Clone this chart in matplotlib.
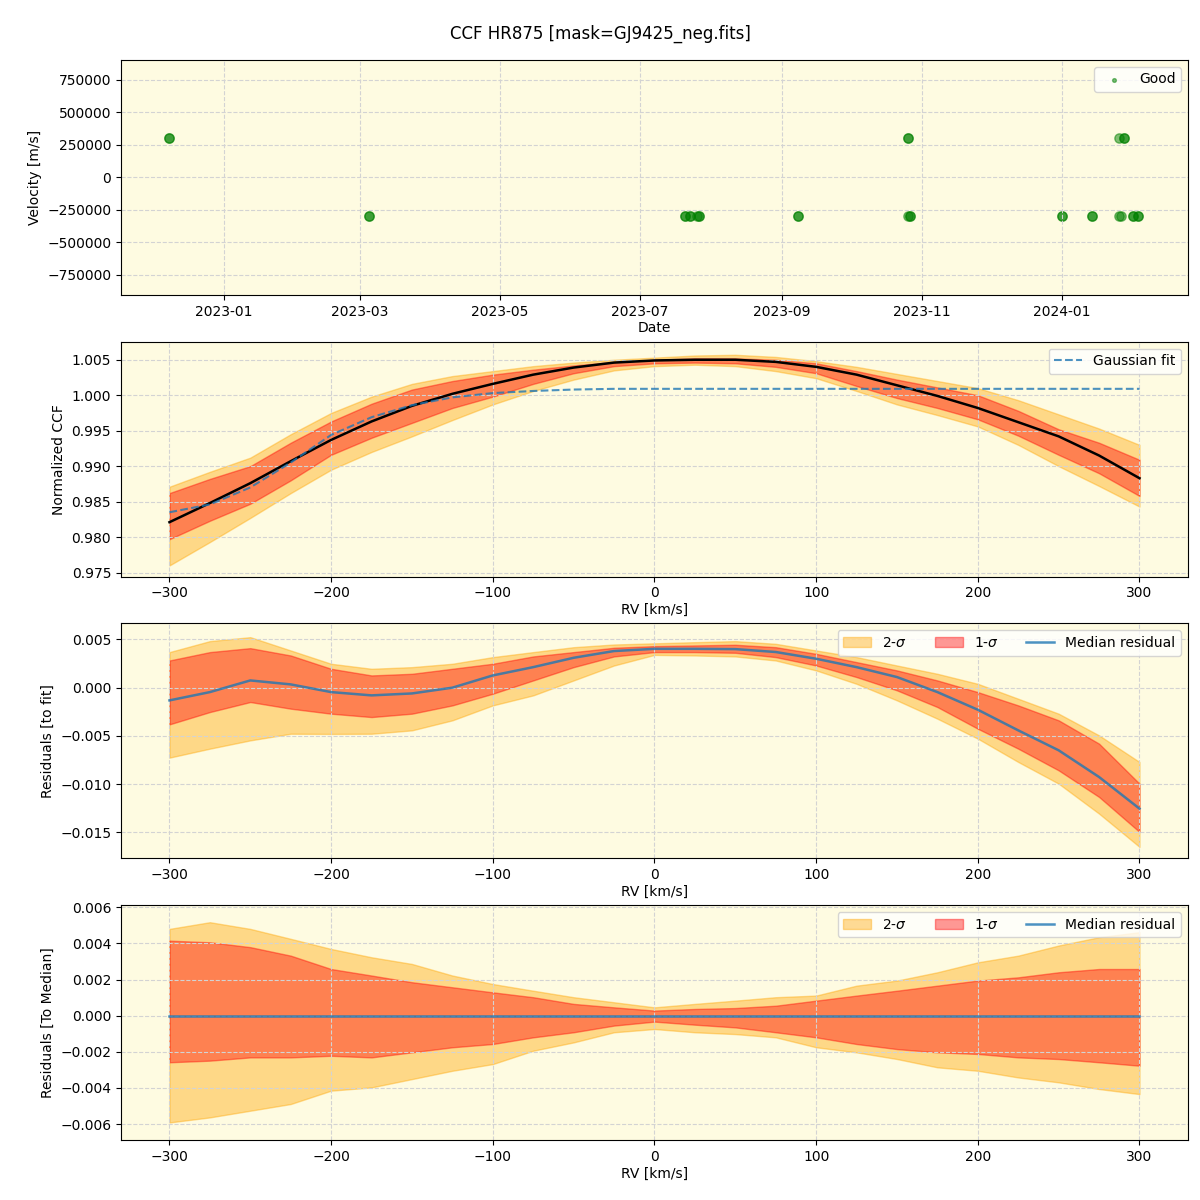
#CCF summary plot: RV time series + stacked CCF, residuals to fit and to median
import matplotlib
matplotlib.use('Agg')
import matplotlib.pyplot as plt
import matplotlib.dates as mdates
import numpy as np

#Observation dates and measured velocities (top panel)
ObsDates = ['2022-12-08', '2022-12-08', '2023-03-05', '2023-03-05', '2023-07-21', '2023-07-21',
            '2023-07-23', '2023-07-23', '2023-07-26', '2023-07-27', '2023-07-27', '2023-09-08',
            '2023-09-08', '2023-10-26', '2023-10-26', '2023-10-26', '2023-10-27', '2023-10-27',
            '2024-01-01', '2024-01-01', '2024-01-14', '2024-01-14', '2024-01-26', '2024-01-26',
            '2024-01-28', '2024-01-28', '2024-01-27', '2024-02-01', '2024-02-01', '2024-02-03', '2024-02-03']
ObsVelocity = [299792, 299792, -299792, -299792, -299792, -299792,
               -299792, -299792, -299792, -299792, -299792, -299792,
               -299792, 299792, -299792, 299792, -299792, -299792,
               -299792, -299792, -299792, -299792, 299792, -299792,
               299792, 299792, -299792, -299792, -299792, -299792, -299792]

#RV grid [km/s]
RV = [-300, -275, -250, -225, -200, -175, -150, -125, -100, -75, -50, -25, 0,
      25, 50, 75, 100, 125, 150, 175, 200, 225, 250, 275, 300]

#Normalized CCF panel
CCFMedian = [0.9821, 0.9848, 0.9876, 0.9907, 0.9937, 0.9963, 0.9985, 1.0002, 1.0016, 1.0029, 1.0039, 1.0046, 1.0049,
             1.0050, 1.0050, 1.0047, 1.0040, 1.0029, 1.0014, 0.9999, 0.9982, 0.9962, 0.9942, 0.9915, 0.9883]
CCFFit = [0.9835, 0.9846, 0.9870, 0.9905, 0.9944, 0.9969, 0.9986, 0.9997, 1.0003, 1.0006, 1.0008, 1.0009, 1.0009,
          1.0009, 1.0009, 1.0009, 1.0009, 1.0009, 1.0009, 1.0009, 1.0009, 1.0009, 1.0009, 1.0009, 1.0009]
CCF2Hi = [0.9871, 0.9892, 0.9912, 0.9945, 0.9975, 0.9998, 1.0016, 1.0027, 1.0034, 1.0041, 1.0046, 1.0050, 1.0053,
          1.0056, 1.0057, 1.0054, 1.0048, 1.0040, 1.0030, 1.0020, 1.0010, 0.9993, 0.9973, 0.9953, 0.9930]
CCF1Hi = [0.9862, 0.9882, 0.9900, 0.9933, 0.9963, 0.9988, 1.0008, 1.0020, 1.0029, 1.0036, 1.0042, 1.0047, 1.0050,
          1.0052, 1.0052, 1.0050, 1.0045, 1.0034, 1.0022, 1.0011, 1.0000, 0.9978, 0.9952, 0.9933, 0.9909]
CCF1Lo = [0.9797, 0.9823, 0.9847, 0.9880, 0.9916, 0.9940, 0.9961, 0.9982, 0.9998, 1.0016, 1.0031, 1.0041, 1.0045,
          1.0046, 1.0045, 1.0040, 1.0031, 1.0013, 0.9996, 0.9982, 0.9966, 0.9943, 0.9916, 0.9890, 0.9858]
CCF2Lo = [0.9760, 0.9793, 0.9827, 0.9862, 0.9895, 0.9920, 0.9942, 0.9965, 0.9987, 1.0006, 1.0022, 1.0035, 1.0041,
          1.0043, 1.0041, 1.0034, 1.0024, 1.0006, 0.9987, 0.9972, 0.9956, 0.9930, 0.9900, 0.9872, 0.9843]

#Residuals to fit panel
FitResMedian = [-0.00132, -0.00046, 0.00075, 0.00034, -0.00046, -0.00080, -0.00060, 0.00000, 0.00127, 0.00213, 0.00310, 0.00380, 0.00403,
                0.00403, 0.00400, 0.00370, 0.00300, 0.00213, 0.00110, -0.00046, -0.00229, -0.00443, -0.00650, -0.00927, -0.01255]
FitRes2Hi = [0.00369, 0.00483, 0.00524, 0.00386, 0.00248, 0.00196, 0.00213, 0.00248, 0.00317, 0.00369, 0.00420, 0.00448, 0.00460,
             0.00472, 0.00483, 0.00455, 0.00386, 0.00317, 0.00230, 0.00144, 0.00040, -0.00115, -0.00270, -0.00495, -0.00771]
FitRes1Hi = [0.00282, 0.00369, 0.00410, 0.00334, 0.00196, 0.00127, 0.00144, 0.00196, 0.00248, 0.00324, 0.00369, 0.00414, 0.00431,
             0.00438, 0.00445, 0.00420, 0.00351, 0.00265, 0.00179, 0.00075, -0.00046, -0.00184, -0.00339, -0.00581, -0.00996]
FitRes1Lo = [-0.00381, -0.00253, -0.00149, -0.00218, -0.00270, -0.00305, -0.00270, -0.00184, -0.00063, 0.00075, 0.00213, 0.00324, 0.00369,
             0.00369, 0.00362, 0.00317, 0.00230, 0.00110, -0.00028, -0.00201, -0.00426, -0.00633, -0.00858, -0.01134, -0.01497]
FitRes2Lo = [-0.00726, -0.00633, -0.00547, -0.00478, -0.00480, -0.00478, -0.00443, -0.00339, -0.00184, -0.00080, 0.00075, 0.00230, 0.00340,
             0.00334, 0.00324, 0.00282, 0.00179, 0.00040, -0.00132, -0.00322, -0.00529, -0.00771, -0.00996, -0.01307, -0.01652]

#Residuals to median panel
MedRes = [0.0] * 25
MedRes2Hi = [0.00480, 0.00517, 0.00480, 0.00425, 0.00369, 0.00323, 0.00286, 0.00222, 0.00175, 0.00138, 0.00102, 0.00074, 0.00046,
             0.00065, 0.00083, 0.00102, 0.00111, 0.00166, 0.00194, 0.00240, 0.00295, 0.00332, 0.00388, 0.00434, 0.00462]
MedRes1Hi = [0.00415, 0.00406, 0.00379, 0.00332, 0.00258, 0.00222, 0.00185, 0.00157, 0.00129, 0.00102, 0.00065, 0.00046, 0.00028,
             0.00037, 0.00042, 0.00055, 0.00083, 0.00111, 0.00138, 0.00166, 0.00194, 0.00212, 0.00240, 0.00258, 0.00258]
MedRes1Lo = [-0.00258, -0.00249, -0.00231, -0.00231, -0.00222, -0.00231, -0.00203, -0.00175, -0.00157, -0.00120, -0.00092, -0.00055, -0.00033,
             -0.00050, -0.00065, -0.00092, -0.00120, -0.00157, -0.00185, -0.00203, -0.00212, -0.00231, -0.00240, -0.00258, -0.00277]
MedRes2Lo = [-0.00591, -0.00563, -0.00526, -0.00489, -0.00415, -0.00397, -0.00351, -0.00305, -0.00268, -0.00194, -0.00148, -0.00092, -0.00074,
             -0.00092, -0.00102, -0.00120, -0.00175, -0.00203, -0.00240, -0.00286, -0.00305, -0.00342, -0.00369, -0.00406, -0.00434]

BgColor = '#fefbe1'

fig, axes = plt.subplots(4, 1, figsize=(12, 12), dpi=100)
fig.subplots_adjust(left=0.1008, right=0.99, top=0.95, bottom=0.05, hspace=0.2)
fig.suptitle('CCF HR875 [mask=GJ9425_neg.fits]', y=0.979, fontsize=12)

#Top panel: velocities vs date
ax = axes[0]
ax.set_facecolor(BgColor)
dates = [np.datetime64(d) for d in ObsDates]
ax.scatter(dates, ObsVelocity, s=45, color='green', alpha=0.5, label='Good')
ax.set_xlim(np.datetime64('2022-11-17'), np.datetime64('2024-02-25'))
ax.set_ylim(-904000, 904000)
ax.set_yticks([-750000, -500000, -250000, 0, 250000, 500000, 750000])
ax.xaxis.set_major_locator(mdates.MonthLocator(bymonth=[1, 3, 5, 7, 9, 11]))
ax.xaxis.set_major_formatter(mdates.DateFormatter('%Y-%m'))
ax.set_xlabel('Date', labelpad=2)
ax.set_ylabel('Velocity [m/s]')
ax.grid(True, linestyle='--', color='lightgray')
ax.legend(loc='upper right', markerscale=0.4)

#Second panel: normalized CCF with bands
ax = axes[1]
ax.set_facecolor(BgColor)
ax.fill_between(RV, CCF2Lo, CCF2Hi, color='orange', alpha=0.4, label='2-$\\sigma$')
ax.fill_between(RV, CCF1Lo, CCF1Hi, color='red', alpha=0.4, label='1-$\\sigma$')
ax.plot(RV, CCFMedian, color='black', lw=1.8)
ax.plot(RV, CCFFit, color='C0', ls='--', lw=1.5, alpha=0.8, label='Gaussian fit')
ax.set_xlim(-330, 330)
ax.set_ylim(0.97444, 1.00754)
ax.set_xlabel('RV [km/s]', labelpad=2)
ax.set_ylabel('Normalized CCF')
ax.grid(True, linestyle='--', color='lightgray')
handles, labels = ax.get_legend_handles_labels()
ax.legend([handles[-1]], [labels[-1]], loc='upper right')

#Third panel: residuals to fit
ax = axes[2]
ax.set_facecolor(BgColor)
ax.fill_between(RV, FitRes2Lo, FitRes2Hi, color='orange', alpha=0.4, label='2-$\\sigma$')
ax.fill_between(RV, FitRes1Lo, FitRes1Hi, color='red', alpha=0.4, label='1-$\\sigma$')
ax.plot(RV, FitResMedian, color='C0', lw=1.8, alpha=0.8, label='Median residual')
ax.set_xlim(-330, 330)
ax.set_ylim(-0.0177, 0.00666)
ax.set_xlabel('RV [km/s]', labelpad=2)
ax.set_ylabel('Residuals [to fit]')
ax.grid(True, linestyle='--', color='lightgray')
ax.legend(loc='upper right', ncol=3)

#Bottom panel: residuals to median
ax = axes[3]
ax.set_facecolor(BgColor)
ax.fill_between(RV, MedRes2Lo, MedRes2Hi, color='orange', alpha=0.4, label='2-$\\sigma$')
ax.fill_between(RV, MedRes1Lo, MedRes1Hi, color='red', alpha=0.4, label='1-$\\sigma$')
ax.plot(RV, MedRes, color='C0', lw=1.8, alpha=0.8, label='Median residual')
ax.set_xlim(-330, 330)
ax.set_ylim(-0.00688, 0.00611)
ax.set_xlabel('RV [km/s]', labelpad=2)
ax.set_ylabel('Residuals [To Median]')
ax.grid(True, linestyle='--', color='lightgray')
ax.legend(loc='upper right', ncol=3)

plt.savefig('out.png', dpi=100)
